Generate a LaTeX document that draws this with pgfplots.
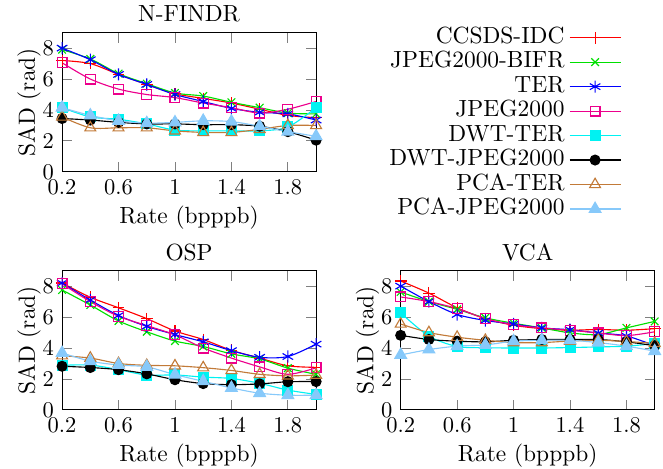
\documentclass[border=0pt]{standalone}
\usepackage{pgfplots}
\pgfplotsset{compat=1.18}
\usepackage{pgfplotstable}
\definecolor{cgreen}{rgb}{0,0.88,0}
\definecolor{cbrown}{rgb}{0.76,0.48,0.22}
\definecolor{clblue}{rgb}{0.53,0.79,0.98}
\definecolor{ccyan}{rgb}{0,0.95,0.95}

\pgfplotstableread{
x    a     b     c     d     e     f     g     h
0.2  7.2   7.9   8.0   7.05  4.15  3.45  3.55  4.15
0.4  7.0   7.3   7.25  6.0   3.55  3.35  2.85  3.65
0.6  6.3   6.35  6.3   5.35  3.4   3.2   2.85  3.3
0.8  5.65  5.7   5.65  5.0   3.1   3.1   2.85  3.15
1.0  5.05  5.1   5.0   4.8   2.7   3.1   2.65  3.2
1.2  4.75  4.9   4.55  4.45  2.65  3.05  2.55  3.3
1.4  4.45  4.5   4.1   4.15  2.65  3.05  2.55  3.25
1.6  4.05  4.15  3.85  3.8   2.65  2.95  2.75  2.95
1.8  3.65  3.8   3.75  4.05  2.9   2.6   3.0   2.6
2.0  3.5   3.75  3.35  4.55  4.15  2.05  3.0   2.3
}\nfindr

\pgfplotstableread{
x    a     b     c     d     e     f     g     h
0.2  8.2   7.75  8.2   8.15  2.88  2.82  3.5   3.68
0.4  7.28  6.78  7.1   7.0   2.9   2.74  3.35  3.15
0.6  6.6   5.75  6.1   6.05  2.6   2.6   3.0   2.9
0.8  5.9   5.05  5.4   5.45  2.25  2.33  2.88  2.78
1.0  5.1   4.45  4.87  4.85  2.26  1.95  2.85  2.28
1.2  4.55  4.1   4.4   4.0   2.12  1.7   2.73  1.85
1.4  3.85  3.62  3.83  3.35  2.03  1.63  2.55  1.42
1.6  3.35  3.3   3.4   2.78  1.72  1.68  2.3   1.08
1.8  2.85  2.7   3.45  2.3   1.28  1.82  2.2   0.95
2.0  2.75  2.3   4.25  2.72  1.0   1.83  2.25  0.95
}\osp

\pgfplotstableread{
x    a     b     c     d     e     f     g     h
0.2  8.33  7.62  8.0   7.3   6.27  4.82  5.55  3.55
0.4  7.55  7.0   7.0   7.0   4.77  4.55  5.0   3.9
0.6  6.6   6.5   6.17  6.55  4.1   4.44  4.7   4.12
0.8  5.9   5.95  5.78  5.9   4.02  4.4   4.5   4.2
1.0  5.47  5.6   5.55  5.5   4.0   4.5   4.35  4.44
1.2  5.25  5.3   5.3   5.3   4.0   4.55  4.35  4.5
1.4  5.15  4.98  5.18  5.15  4.03  4.55  4.45  4.5
1.6  5.2   4.87  4.97  4.97  4.07  4.55  4.5   4.35
1.8  5.15  5.3   4.78  4.8   4.12  4.4   4.42  4.12
2.0  5.25  5.72  4.15  5.05  4.28  4.15  4.3   3.8
}\vca

\pgfplotsset{
  myax/.style={
    scale only axis, width=112.9pt, height=61.9pt,
    xmin=0.2, xmax=2, ymin=0, ymax=9,
    xtick={0.2,0.6,1,1.4,1.8}, ytick={0,2,4,6,8},
    tick align=inside, major tick length=4.4pt,
    tick style={line width=0.4pt},
    xlabel={Rate (bpppb)}, ylabel={SAD (rad)},
    ylabel shift=-6.3pt, xlabel shift=-2pt,
    every axis title shift=0pt,
    title style={at={(axis description cs:0.5,1)}, anchor=south, yshift=0.5pt},
    every axis plot/.append style={line width=0.5pt, smooth, mark size=2.2pt, mark options={solid}},
    clip=false,
  },
  sA/.style={red, mark=+, mark size=2.6pt},
  sB/.style={cgreen, mark=x, mark size=2.4pt},
  sC/.style={blue, mark=asterisk, mark size=2.7pt},
  sD/.style={magenta, mark=square},
  sE/.style={ccyan, mark=square*, mark options={fill=ccyan}},
  sF/.style={black, mark=*, mark options={fill=black}},
  sG/.style={cbrown, mark=triangle, mark size=2.8pt},
  sH/.style={clblue, mark=triangle*, mark size=3pt, mark options={fill=clblue}},
}

\newcommand{\allplots}[1]{%
  \addplot[sA] table[x=x,y=a]{#1};
  \addplot[sB] table[x=x,y=b]{#1};
  \addplot[sC] table[x=x,y=c]{#1};
  \addplot[sD] table[x=x,y=d]{#1};
  \addplot[sE] table[x=x,y=e]{#1};
  \addplot[sF] table[x=x,y=f]{#1};
  \addplot[sG] table[x=x,y=g]{#1};
  \addplot[sH] table[x=x,y=h]{#1};
}

\begin{document}
\fontsize{10.4}{12.5}\selectfont
\begin{tikzpicture}
\useasboundingbox (0pt,0pt) rectangle (294.7pt,208.4pt);

\begin{axis}[myax, at={(27.6pt,132pt)}, anchor=south west, title={N-FINDR},
  title style={yshift=0.5pt},
  legend style={at={(axis description cs:2.203,1.055)}, anchor=north east,
    draw=none, fill=none, inner sep=0pt, row sep=0pt,
    nodes={text height=7pt, text depth=2pt, inner ysep=0.94pt, inner xsep=2pt}},
  legend cell align=right, legend plot pos=right,
  legend image code/.code={%
    \draw[mark repeat=2, mark phase=2, #1] plot coordinates {(0pt,0pt) (11.35pt,0pt) (22.7pt,0pt)};}]
\allplots{\nfindr}
\legend{CCSDS-IDC,JPEG2000-BIFR,TER,JPEG2000,DWT-TER,DWT-JPEG2000,PCA-TER,PCA-JPEG2000}
\end{axis}

\begin{axis}[myax, at={(27.6pt,26.2pt)}, anchor=south west, title={OSP}]
\allplots{\osp}
\end{axis}

\begin{axis}[myax, at={(178.1pt,26.2pt)}, anchor=south west, title={VCA}]
\allplots{\vca}
\end{axis}
\end{tikzpicture}
\end{document}
